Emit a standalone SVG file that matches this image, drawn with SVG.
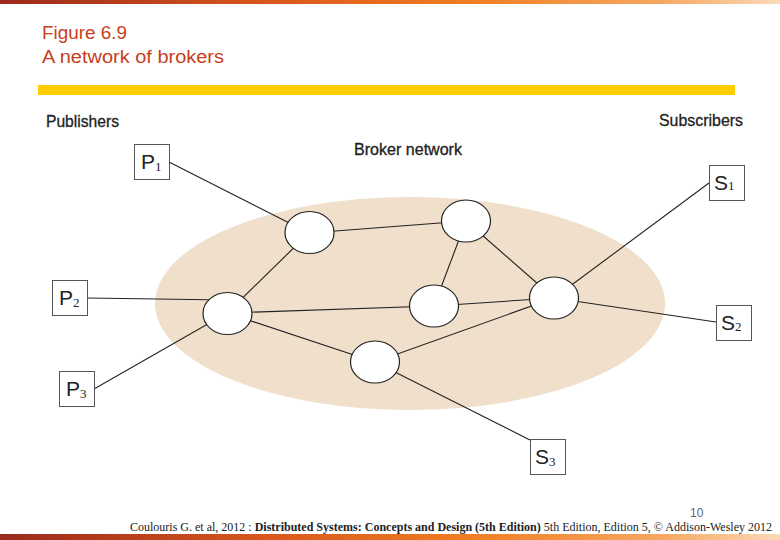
<svg xmlns="http://www.w3.org/2000/svg" width="780" height="540" viewBox="0 0 780 540">
<defs>
<linearGradient id="bar" x1="0" y1="0" x2="1" y2="0">
<stop offset="0" stop-color="#9a2a1c"/>
<stop offset="0.35" stop-color="#d9581c"/>
<stop offset="0.6" stop-color="#f07d22"/>
<stop offset="0.85" stop-color="#f6a862"/>
<stop offset="1" stop-color="#fbd9b8"/>
</linearGradient>
<style>
.title{font-family:"Liberation Sans",Arial,sans-serif;font-size:18px;fill:#c8401c}
.lbl{font-family:"Liberation Sans",Arial,sans-serif;font-size:16px;fill:#222;stroke:#222;stroke-width:0.3}
.box{fill:#fff;stroke:#555;stroke-width:1}
.btxt{font-family:"Liberation Sans",Arial,sans-serif;font-size:21px;fill:#222}
.sub{font-family:"Liberation Serif","Times New Roman",serif;font-size:13px;fill:#222}
.broker{fill:#fff;stroke:#222;stroke-width:1.2}
.conn line{stroke:#222;stroke-width:1.1}
.foot{font-family:"Liberation Serif","Times New Roman",serif;font-size:12px;fill:#222}
</style>
</defs>
<rect x="0" y="0" width="780" height="4" fill="url(#bar)"/>
<rect x="0" y="534" width="780" height="6" fill="url(#bar)"/>
<text class="title" x="42" y="39" textLength="85" lengthAdjust="spacingAndGlyphs">Figure 6.9</text>
<text class="title" x="42" y="63" textLength="182" lengthAdjust="spacingAndGlyphs">A network of brokers</text>
<rect x="38" y="85" width="697" height="10" fill="#ffcc00"/>
<text class="lbl" x="46" y="127" textLength="73" lengthAdjust="spacingAndGlyphs">Publishers</text>
<text class="lbl" x="659" y="126" textLength="84" lengthAdjust="spacingAndGlyphs">Subscribers</text>
<text class="lbl" x="354" y="155" textLength="108" lengthAdjust="spacingAndGlyphs">Broker network</text>
<ellipse cx="410" cy="303.5" rx="255" ry="106.5" fill="#efdfcb"/>
<g class="conn" id="connectors">
<line x1="169" y1="162" x2="309" y2="233"/>
<line x1="309" y1="233" x2="466" y2="221"/>
<line x1="309" y1="233" x2="227" y2="313"/>
<line x1="87" y1="298" x2="227" y2="300"/>
<line x1="94" y1="389" x2="227" y2="313"/>
<line x1="227" y1="313" x2="434" y2="306"/>
<line x1="227" y1="313" x2="375" y2="362"/>
<line x1="466" y1="221" x2="434" y2="306"/>
<line x1="466" y1="221" x2="554" y2="298"/>
<line x1="434" y1="306" x2="554" y2="298"/>
<line x1="375" y1="362" x2="554" y2="298"/>
<line x1="554" y1="298" x2="709" y2="183"/>
<line x1="554" y1="298" x2="716" y2="322"/>
<line x1="375" y1="362" x2="530" y2="440"/>
</g>
<g id="b1"><ellipse class="broker" cx="309.5" cy="232.5" rx="24.5" ry="21"/></g>
<g id="b2"><ellipse class="broker" cx="466" cy="221" rx="24.5" ry="21"/></g>
<g id="b3"><ellipse class="broker" cx="227.5" cy="313.5" rx="24.5" ry="21"/></g>
<g id="b4"><ellipse class="broker" cx="434" cy="306" rx="24.5" ry="21"/></g>
<g id="b5"><ellipse class="broker" cx="554" cy="298" rx="24.5" ry="21"/></g>
<g id="b6"><ellipse class="broker" cx="375" cy="362" rx="24.5" ry="21"/></g>
<g id="p1"><rect class="box" x="134.5" y="144.5" width="35" height="35"/><text class="btxt" x="141" y="169">P</text><text class="sub" x="155" y="171">1</text></g>
<g id="p2"><rect class="box" x="52.5" y="280.5" width="35" height="35"/><text class="btxt" x="59" y="305">P</text><text class="sub" x="73" y="307">2</text></g>
<g id="p3"><rect class="box" x="59.5" y="371.5" width="35" height="35"/><text class="btxt" x="66" y="396">P</text><text class="sub" x="80" y="398">3</text></g>
<g id="s1"><rect class="box" x="709.5" y="165.5" width="35" height="35"/><text class="btxt" x="714" y="190">S</text><text class="sub" x="728" y="190">1</text></g>
<g id="s2"><rect class="box" x="716.5" y="305.5" width="35" height="35"/><text class="btxt" x="721" y="330">S</text><text class="sub" x="735" y="331">2</text></g>
<g id="s3"><rect class="box" x="530.5" y="439.5" width="35" height="35"/><text class="btxt" x="535" y="464">S</text><text class="sub" x="549" y="466">3</text></g>
<text x="690" y="517" font-family="Liberation Sans,Arial,sans-serif" font-size="12" fill="#666">10</text>
<text class="foot" x="130" y="531" textLength="642" lengthAdjust="spacingAndGlyphs">Coulouris G. et al, 2012 : <tspan font-weight="bold">Distributed Systems: Concepts and Design (5th Edition)</tspan> 5th Edition, Edition 5, © Addison-Wesley 2012</text>
</svg>
